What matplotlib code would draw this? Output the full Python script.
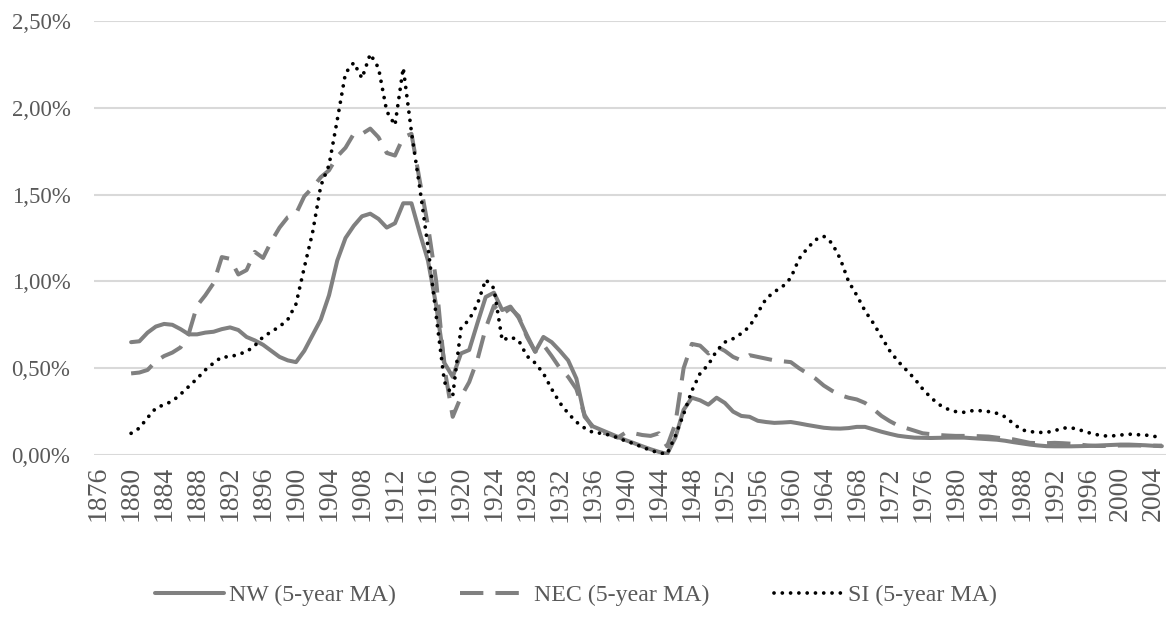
import matplotlib
matplotlib.use("Agg")
import matplotlib.pyplot as plt
from matplotlib.ticker import FuncFormatter, MultipleLocator
import numpy as np

plt.rcParams['font.family'] = ['Liberation Serif', 'DejaVu Serif']

# Years on the category axis (first four years have no moving average yet)
years = list(range(1876, 2006))
first_year = 1880

# 5-year moving averages, in percent, 1880-2005
nw = [0.65, 0.655, 0.705, 0.74, 0.755, 0.75, 0.725, 0.695, 0.695, 0.705,
      0.71, 0.725, 0.735, 0.72, 0.68, 0.66, 0.635, 0.60, 0.565, 0.545,
      0.535, 0.60, 0.69, 0.78, 0.92, 1.12, 1.25, 1.32, 1.375, 1.39,
      1.36, 1.31, 1.335, 1.45, 1.45, 1.28, 1.12, 0.86, 0.53, 0.45,
      0.585, 0.605, 0.76, 0.91, 0.935, 0.835, 0.855, 0.79, 0.69, 0.595,
      0.68, 0.65, 0.60, 0.545, 0.44, 0.22, 0.165, 0.145, 0.125, 0.105,
      0.085, 0.068, 0.05, 0.033, 0.018, 0.006, 0.10, 0.26, 0.33, 0.315,
      0.29, 0.33, 0.30, 0.25, 0.225, 0.22, 0.197, 0.19, 0.185, 0.187,
      0.19, 0.182, 0.173, 0.165, 0.157, 0.153, 0.152, 0.155, 0.162, 0.162,
      0.148, 0.134, 0.122, 0.111, 0.105, 0.10, 0.099, 0.098, 0.099, 0.10,
      0.10, 0.10, 0.097, 0.094, 0.091, 0.088, 0.082, 0.074, 0.067, 0.06,
      0.055, 0.051, 0.05, 0.05, 0.05, 0.051, 0.052, 0.054, 0.056, 0.058,
      0.06, 0.06, 0.058, 0.056, 0.053, 0.051]

nec = [0.47, 0.475, 0.49, 0.54, 0.57, 0.59, 0.62, 0.70, 0.86, 0.92,
       0.99, 1.14, 1.13, 1.04, 1.065, 1.17, 1.135, 1.23, 1.31, 1.37,
       1.39, 1.49, 1.54, 1.60, 1.64, 1.72, 1.77, 1.85, 1.85, 1.88,
       1.83, 1.74, 1.725, 1.83, 1.85, 1.58, 1.32, 1.00, 0.50, 0.22,
       0.335, 0.42, 0.55, 0.73, 0.86, 0.81, 0.845, 0.80, 0.68, 0.595,
       0.635, 0.57, 0.50, 0.45, 0.38, 0.23, 0.155, 0.13, 0.12, 0.10,
       0.13, 0.125, 0.115, 0.11, 0.125, 0.05, 0.18, 0.50, 0.64, 0.63,
       0.585, 0.625, 0.60, 0.565, 0.545, 0.575, 0.565, 0.555, 0.545, 0.54,
       0.535, 0.50, 0.47, 0.44, 0.40, 0.37, 0.345, 0.33, 0.32, 0.30,
       0.265, 0.225, 0.195, 0.17, 0.155, 0.14, 0.125, 0.12, 0.115, 0.112,
       0.11, 0.11, 0.11, 0.108, 0.106, 0.10, 0.095, 0.09, 0.08, 0.07,
       0.068, 0.068, 0.07, 0.068, 0.065, 0.06, 0.055, 0.052, 0.052, 0.053,
       0.055, 0.055, 0.055, 0.054, 0.054, 0.054]

si = [0.125, 0.155, 0.215, 0.27, 0.29, 0.31, 0.35, 0.395, 0.44, 0.49,
      0.53, 0.565, 0.565, 0.58, 0.595, 0.63, 0.68, 0.71, 0.74, 0.78,
      0.87, 1.08, 1.28, 1.55, 1.67, 1.93, 2.20, 2.26, 2.17, 2.31,
      2.23, 1.98, 1.90, 2.23, 1.86, 1.54, 1.20, 0.80, 0.42, 0.34,
      0.73, 0.78, 0.87, 1.01, 0.96, 0.66, 0.68, 0.66, 0.57, 0.53,
      0.47, 0.38, 0.30, 0.24, 0.19, 0.155, 0.13, 0.125, 0.115, 0.10,
      0.08, 0.065, 0.045, 0.027, 0.012, 0.006, 0.11, 0.235, 0.37, 0.47,
      0.52, 0.60, 0.65, 0.67, 0.70, 0.74, 0.82, 0.90, 0.94, 0.97,
      1.02, 1.13, 1.19, 1.24, 1.26, 1.22, 1.13, 1.00, 0.92, 0.83,
      0.76, 0.68, 0.60, 0.54, 0.49, 0.44, 0.38, 0.33, 0.29, 0.265,
      0.25, 0.246, 0.255, 0.255, 0.25, 0.24, 0.22, 0.18, 0.145, 0.135,
      0.13, 0.13, 0.14, 0.155, 0.157, 0.145, 0.13, 0.118, 0.11, 0.11,
      0.115, 0.12, 0.117, 0.115, 0.108, 0.10]

series_labels = ['NW (5-year MA)', 'NEC (5-year MA)', 'SI (5-year MA)']


def pad_series(values):
    """Put NaN in front for the years without a moving average."""
    return [np.nan] * (first_year - years[0]) + values


def pct_label(v, pos):
    # Excel style: comma decimal separator
    return f"{v:.2f}%".replace('.', ',')


fig = plt.figure(figsize=(11.66, 6.23), dpi=100)
ax = fig.add_axes([94 / 1166, 1 - 455 / 623, 1 - 94 / 1166, 434 / 623])

x = np.arange(len(years))
text_grey = '#595959'

ax.plot(x, pad_series(nw), color='#808080', lw=2.9, solid_capstyle='round',
        label=series_labels[0])
ax.plot(x, pad_series(nec), color='#808080', lw=2.9, dashes=(5.8, 3.0),
        label=series_labels[1])
ax.plot(x, pad_series(si), color='black', lw=2.7, dash_capstyle='round',
        linestyle=(0, (0.01, 2.2)), label=series_labels[2])

ax.set_xlim(-0.5, len(years) - 0.5)
ax.set_ylim(0, 2.5)

# y axis
ax.yaxis.set_major_locator(MultipleLocator(0.5))
ax.yaxis.set_major_formatter(FuncFormatter(pct_label))
ax.grid(axis='y', color='#d9d9d9', lw=1.5)
ax.set_axisbelow(True)

# x axis: a label every 4 years
tick_pos = x[::4]
ax.set_xticks(tick_pos)
ax.set_xticklabels([str(y) for y in years[::4]], rotation=90)

ax.tick_params(axis='y', length=0, pad=17, labelsize=16.5, labelcolor=text_grey)
ax.tick_params(axis='x', length=0, pad=8, labelsize=20, labelcolor=text_grey)

for side in ['top', 'right', 'left', 'bottom']:
    ax.spines[side].set_visible(False)

leg = fig.legend(loc='center', bbox_to_anchor=(0.494, 1 - 595 / 623), ncol=3,
                 frameon=False, fontsize=17.2, handlelength=2.9,
                 handletextpad=0.2, columnspacing=2.7)
for t in leg.get_texts():
    t.set_color(text_grey)

fig.savefig('out.png', dpi=100)
